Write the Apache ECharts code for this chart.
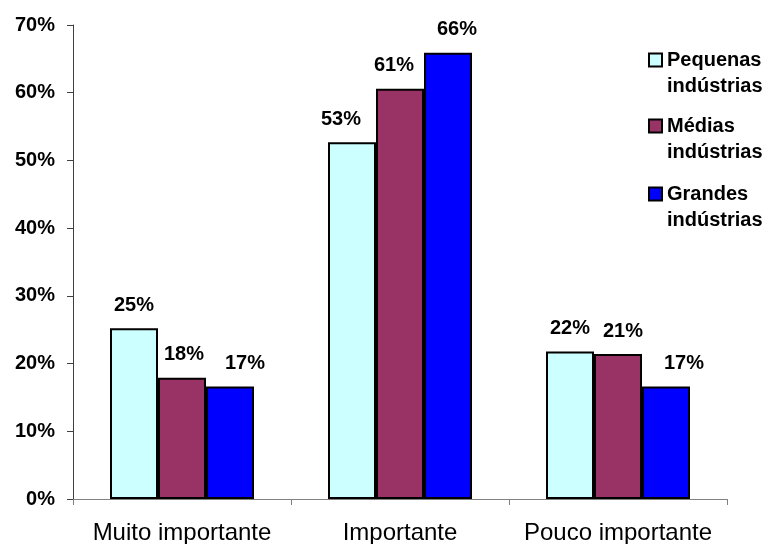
<!DOCTYPE html>
<html>
<head>
<meta charset="utf-8">
<script src="https://cdn.jsdelivr.net/npm/echarts@6/dist/echarts.min.js"></script>
<style>
html,body{margin:0;padding:0;background:#fff;}
#chart{width:781px;height:544px;}
</style>
</head>
<body>
<div id="chart"></div>
<script>
const categories = ['Muito importante', 'Importante', 'Pouco importante'];
const seriesNames = ['Pequenas\nindústrias', 'Médias\nindústrias', 'Grandes\nindústrias'];
const pequenas = [25.2, 52.7, 21.8];
const medias = [17.9, 60.6, 21.4];
const grandes = [16.6, 65.9, 16.6];
const yTicks = [0, 10, 20, 30, 40, 50, 60, 70];

const colors = ['#CCFFFF', '#993366', '#0000FF'];
const labelDx = [[0, -11, 0], [2, -6, 5], [15, 9, 18]];
const legendTops = [21, 87, 155];
const FONT = "'Liberation Sans', Arial, sans-serif";

const values = [pequenas, medias, grandes];
const chart = echarts.init(document.getElementById('chart'), null, {renderer: 'canvas'});

const series = values.map((arr, si) => ({
  name: seriesNames[si],
  type: 'bar',
  barWidth: 48,
  barGap: '0%',
  data: arr.map((v, ci) => ({
    value: v,
    label: {offset: [labelDx[si][ci], 0]}
  })),
  itemStyle: {color: colors[si], borderColor: '#000', borderWidth: 2},
  label: {
    show: true,
    position: 'top',
    distance: 13,
    color: '#000',
    fontFamily: FONT,
    fontWeight: 'bold',
    fontSize: 20,
    formatter: p => Math.round(p.value) + '%'
  }
}));

const legends = seriesNames.map((n, i) => ({
  data: [{name: n, icon: 'rect'}],
  orient: 'vertical',
  left: 648,
  top: legendTops[i],
  padding: 0,
  itemWidth: 13,
  itemHeight: 13,
  selectedMode: false,
  itemStyle: {borderColor: '#000', borderWidth: 2},
  formatter: name => ' \n' + name,
  textStyle: {
    fontFamily: FONT,
    fontWeight: 'bold',
    fontSize: 20,
    lineHeight: 26,
    color: '#000'
  }
}));

chart.setOption({
  animation: false,
  backgroundColor: '#fff',
  color: colors,
  legend: legends,
  grid: {left: 73, right: 54, top: 25, bottom: 45, containLabel: false, outerBoundsMode: 'none'},
  xAxis: {
    type: 'category',
    data: categories,
    axisLine: {show: true, lineStyle: {color: '#808080', width: 1}},
    axisTick: {show: true, alignWithLabel: false, length: 6, lineStyle: {color: '#808080'}},
    axisLabel: {color: '#000', fontFamily: FONT, fontSize: 24, margin: 22, interval: 0}
  },
  yAxis: {
    type: 'value',
    min: yTicks[0],
    max: yTicks[yTicks.length - 1],
    interval: yTicks[1] - yTicks[0],
    splitLine: {show: false},
    axisLine: {show: true, lineStyle: {color: '#404040', width: 1}},
    axisTick: {show: true, length: 6, lineStyle: {color: '#404040'}},
    axisLabel: {
      color: '#000', fontFamily: FONT, fontWeight: 'bold', fontSize: 20, margin: 18,
      formatter: '{value}%'
    }
  },
  series: series
});
</script>
</body>
</html>
